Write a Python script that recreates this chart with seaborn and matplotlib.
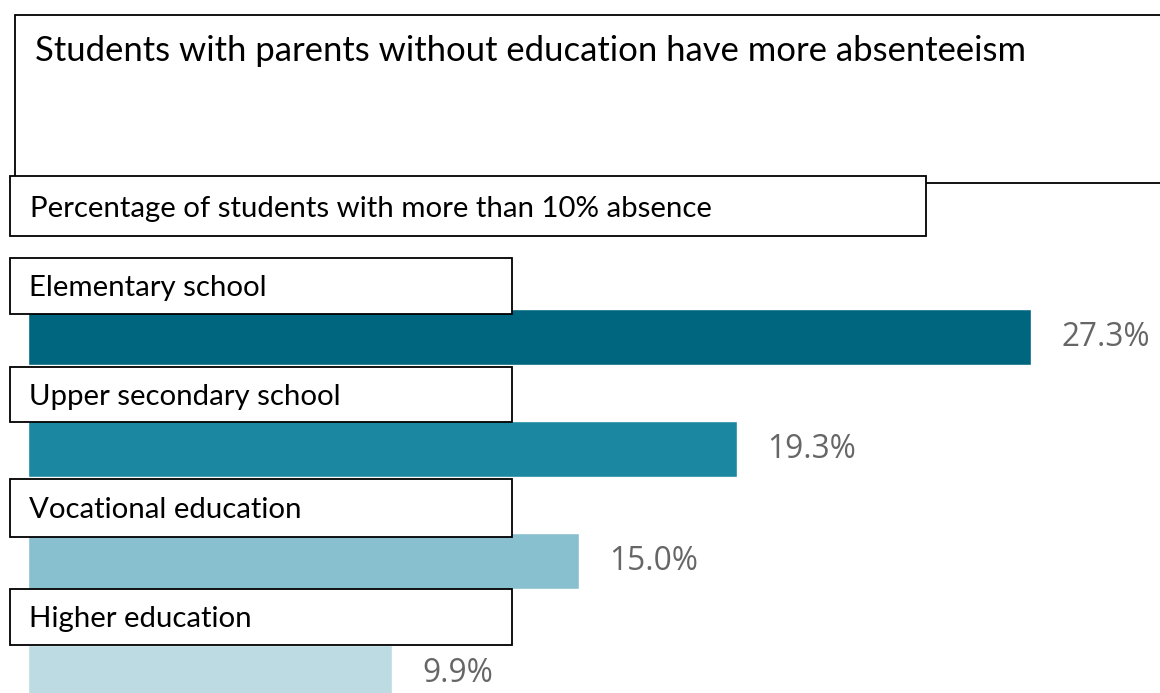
import matplotlib
matplotlib.use("Agg")
import matplotlib.pyplot as plt
import seaborn as sns
import pandas as pd
from matplotlib.patches import Rectangle

# ---- data ----
title = "Students with parents without education have more absenteeism"
subtitle = "Percentage of students with more than 10% absence"
categories = ["Elementary school", "Upper secondary school", "Vocational education", "Higher education"]
values = [27.3, 19.3, 15.0, 9.9]
value_labels = ["27.3%", "19.3%", "15.0%", "9.9%"]
colors = ["#006680", "#1b87a1", "#89c0cf", "#bcdbe3"]

W, H = 1160, 693
DPI = 100
sns.set_theme(style="white")
plt.rcParams["font.family"] = ["Lato", "DejaVu Sans"]

fig = plt.figure(figsize=(W / DPI, H / DPI), dpi=DPI)
ax = fig.add_axes([0, 0, 1, 1])

df = pd.DataFrame({"category": categories, "value": values})
sns.barplot(data=df, x="value", y="category", hue="category", palette=colors,
            orient="h", width=0.5, legend=False, ax=ax, saturation=1)

for cont, lab in zip(ax.containers, value_labels):
    ax.bar_label(cont, labels=[lab], padding=22, fontsize=22.8, color="#666666",
                 family=["Open Sans", "DejaVu Sans"])

px_per_unit = 36.74
ax.set_xlim(-28 / px_per_unit, (W - 28) / px_per_unit)
ax.set_ylim((H - 337) / 112, -337 / 112)
ax.axis("off")


def fx(px):
    return px / W


def fy(py):
    return 1 - py / H


def box(x0, y0, x1, y1):
    r = Rectangle((fx(x0), fy(y1)), fx(x1) - fx(x0), fy(y0) - fy(y1),
                  transform=fig.transFigure, facecolor="white",
                  edgecolor="black", linewidth=1.3, zorder=5)
    fig.add_artist(r)


# title box (extends past right edge)
box(15, 15, W + 20, 183)
fig.text(fx(35), fy(51), title, fontsize=24.9, color="black", va="center", ha="left", zorder=6)

# subtitle box
box(10, 176, 926, 236)
fig.text(fx(30), fy(209), subtitle, fontsize=21.2, color="black", va="center", ha="left", zorder=6)

# category label boxes
label_boxes = [(258, 314), (367, 422), (479, 537), (589, 645)]
for cat, (y0, y1) in zip(categories, label_boxes):
    box(10, y0, 512, y1)
    fig.text(fx(29), fy((y0 + y1) / 2 + 2), cat, fontsize=21.2, color="black",
             va="center", ha="left", zorder=6)

fig.savefig("out.png", dpi=DPI)
